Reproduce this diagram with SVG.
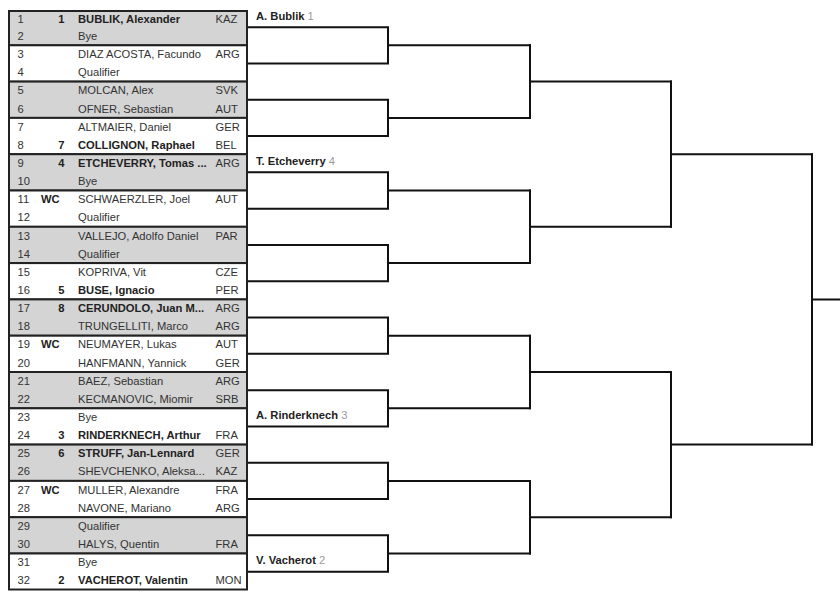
<svg xmlns="http://www.w3.org/2000/svg" width="840" height="595" viewBox="0 0 840 595">
<style>
text{font-family:"Liberation Sans",Arial,sans-serif;font-size:11.2px;fill:#333}
.b{font-weight:bold;fill:#222}
.s{font-weight:bold;fill:#222;text-anchor:end}
.wc{font-weight:bold;fill:#222}
.g{fill:#d4d4d4;stroke:#222;stroke-width:2}
.w{fill:#fff;stroke:#222;stroke-width:2}
.ln{fill:none;stroke:#111;stroke-width:2;stroke-linecap:square}
.lb{font-weight:bold;fill:#222}
.sd{font-weight:normal;fill:#999}
</style>
<rect width="840" height="595" fill="#fff"/>
<g id="connectors">
<path class="ln" d="M247 27.15H388V63.45H247M388 45.3H530"/>
<path class="ln" d="M247 99.75H388V136.05H247M388 117.9H530"/>
<path class="ln" d="M247 172.35H388V208.65H247M388 190.5H530"/>
<path class="ln" d="M247 244.95H388V281.25H247M388 263.1H530"/>
<path class="ln" d="M247 317.55H388V353.85H247M388 335.7H530"/>
<path class="ln" d="M247 390.15H388V426.45H247M388 408.3H530"/>
<path class="ln" d="M247 462.75H388V499.05H247M388 480.9H530"/>
<path class="ln" d="M247 535.35H388V571.65H247M388 553.5H530"/>
<path class="ln" d="M530 45.3V117.9M530 81.6H671"/>
<path class="ln" d="M530 190.5V263.1M530 226.8H671"/>
<path class="ln" d="M530 335.7V408.3M530 372H671"/>
<path class="ln" d="M530 480.9V553.5M530 517.2H671"/>
<path class="ln" d="M671 81.6V226.8M671 154.2H812"/>
<path class="ln" d="M671 372V517.2M671 444.6H812"/>
<path class="ln" d="M812 154.2V444.6M812 299.4H841"/>
</g>
<g id="m1"><rect class="g" x="9" y="11" width="238" height="34.3"/>
<text x="17.5" y="23.2">1</text><text class="s" x="64.5" y="23.2">1</text><text class="b" x="78" y="23.2">BUBLIK, Alexander</text><text x="215.5" y="23.2">KAZ</text>
<text x="17.5" y="39.9">2</text><text x="78" y="39.9">Bye</text></g>
<g id="m2"><rect class="w" x="9" y="45.3" width="238" height="36.3"/>
<text x="17.5" y="58.1">3</text><text x="78" y="58.1">DIAZ ACOSTA, Facundo</text><text x="215.5" y="58.1">ARG</text>
<text x="17.5" y="76.2">4</text><text x="78" y="76.2">Qualifier</text></g>
<g id="m3"><rect class="g" x="9" y="81.6" width="238" height="36.3"/>
<text x="17.5" y="94.3">5</text><text x="78" y="94.3">MOLCAN, Alex</text><text x="215.5" y="94.3">SVK</text>
<text x="17.5" y="112.5">6</text><text x="78" y="112.5">OFNER, Sebastian</text><text x="215.5" y="112.5">AUT</text></g>
<g id="m4"><rect class="w" x="9" y="117.9" width="238" height="36.3"/>
<text x="17.5" y="130.6">7</text><text x="78" y="130.6">ALTMAIER, Daniel</text><text x="215.5" y="130.6">GER</text>
<text x="17.5" y="148.7">8</text><text class="s" x="64.5" y="148.7">7</text><text class="b" x="78" y="148.7">COLLIGNON, Raphael</text><text x="215.5" y="148.7">BEL</text></g>
<g id="m5"><rect class="g" x="9" y="154.2" width="238" height="36.3"/>
<text x="17.5" y="166.9">9</text><text class="s" x="64.5" y="166.9">4</text><text class="b" x="78" y="166.9">ETCHEVERRY, Tomas ...</text><text x="215.5" y="166.9">ARG</text>
<text x="17.5" y="185">10</text><text x="78" y="185">Bye</text></g>
<g id="m6"><rect class="w" x="9" y="190.5" width="238" height="36.3"/>
<text x="17.5" y="203.2">11</text><text class="wc" x="41" y="203.2">WC</text><text x="78" y="203.2">SCHWAERZLER, Joel</text><text x="215.5" y="203.2">AUT</text>
<text x="17.5" y="221.3">12</text><text x="78" y="221.3">Qualifier</text></g>
<g id="m7"><rect class="g" x="9" y="226.8" width="238" height="36.3"/>
<text x="17.5" y="239.5">13</text><text x="78" y="239.5">VALLEJO, Adolfo Daniel</text><text x="215.5" y="239.5">PAR</text>
<text x="17.5" y="257.6">14</text><text x="78" y="257.6">Qualifier</text></g>
<g id="m8"><rect class="w" x="9" y="263.1" width="238" height="36.3"/>
<text x="17.5" y="275.8">15</text><text x="78" y="275.8">KOPRIVA, Vit</text><text x="215.5" y="275.8">CZE</text>
<text x="17.5" y="293.9">16</text><text class="s" x="64.5" y="293.9">5</text><text class="b" x="78" y="293.9">BUSE, Ignacio</text><text x="215.5" y="293.9">PER</text></g>
<g id="m9"><rect class="g" x="9" y="299.4" width="238" height="36.3"/>
<text x="17.5" y="312.1">17</text><text class="s" x="64.5" y="312.1">8</text><text class="b" x="78" y="312.1">CERUNDOLO, Juan M...</text><text x="215.5" y="312.1">ARG</text>
<text x="17.5" y="330.2">18</text><text x="78" y="330.2">TRUNGELLITI, Marco</text><text x="215.5" y="330.2">ARG</text></g>
<g id="m10"><rect class="w" x="9" y="335.7" width="238" height="36.3"/>
<text x="17.5" y="348.4">19</text><text class="wc" x="41" y="348.4">WC</text><text x="78" y="348.4">NEUMAYER, Lukas</text><text x="215.5" y="348.4">AUT</text>
<text x="17.5" y="366.5">20</text><text x="78" y="366.5">HANFMANN, Yannick</text><text x="215.5" y="366.5">GER</text></g>
<g id="m11"><rect class="g" x="9" y="372" width="238" height="36.3"/>
<text x="17.5" y="384.7">21</text><text x="78" y="384.7">BAEZ, Sebastian</text><text x="215.5" y="384.7">ARG</text>
<text x="17.5" y="402.8">22</text><text x="78" y="402.8">KECMANOVIC, Miomir</text><text x="215.5" y="402.8">SRB</text></g>
<g id="m12"><rect class="w" x="9" y="408.3" width="238" height="36.3"/>
<text x="17.5" y="421">23</text><text x="78" y="421">Bye</text>
<text x="17.5" y="439.1">24</text><text class="s" x="64.5" y="439.1">3</text><text class="b" x="78" y="439.1">RINDERKNECH, Arthur</text><text x="215.5" y="439.1">FRA</text></g>
<g id="m13"><rect class="g" x="9" y="444.6" width="238" height="36.3"/>
<text x="17.5" y="457.3">25</text><text class="s" x="64.5" y="457.3">6</text><text class="b" x="78" y="457.3">STRUFF, Jan-Lennard</text><text x="215.5" y="457.3">GER</text>
<text x="17.5" y="475.4">26</text><text x="78" y="475.4">SHEVCHENKO, Aleksa...</text><text x="215.5" y="475.4">KAZ</text></g>
<g id="m14"><rect class="w" x="9" y="480.9" width="238" height="36.3"/>
<text x="17.5" y="493.6">27</text><text class="wc" x="41" y="493.6">WC</text><text x="78" y="493.6">MULLER, Alexandre</text><text x="215.5" y="493.6">FRA</text>
<text x="17.5" y="511.7">28</text><text x="78" y="511.7">NAVONE, Mariano</text><text x="215.5" y="511.7">ARG</text></g>
<g id="m15"><rect class="g" x="9" y="517.2" width="238" height="36.3"/>
<text x="17.5" y="529.9">29</text><text x="78" y="529.9">Qualifier</text>
<text x="17.5" y="548">30</text><text x="78" y="548">HALYS, Quentin</text><text x="215.5" y="548">FRA</text></g>
<g id="m16"><rect class="w" x="9" y="553.5" width="238" height="36"/>
<text x="17.5" y="566.2">31</text><text x="78" y="566.2">Bye</text>
<text x="17.5" y="584.3">32</text><text class="s" x="64.5" y="584.3">2</text><text class="b" x="78" y="584.3">VACHEROT, Valentin</text><text x="215.5" y="584.3">MON</text></g>
<g id="w1"><text class="lb" x="256" y="19.6">A. Bublik <tspan class="sd">1</tspan></text></g>
<g id="w2"><text class="lb" x="256" y="164.85">T. Etcheverry <tspan class="sd">4</tspan></text></g>
<g id="w3"><text class="lb" x="256" y="418.95">A. Rinderknech <tspan class="sd">3</tspan></text></g>
<g id="w4"><text class="lb" x="256" y="564.15">V. Vacherot <tspan class="sd">2</tspan></text></g>
</svg>
